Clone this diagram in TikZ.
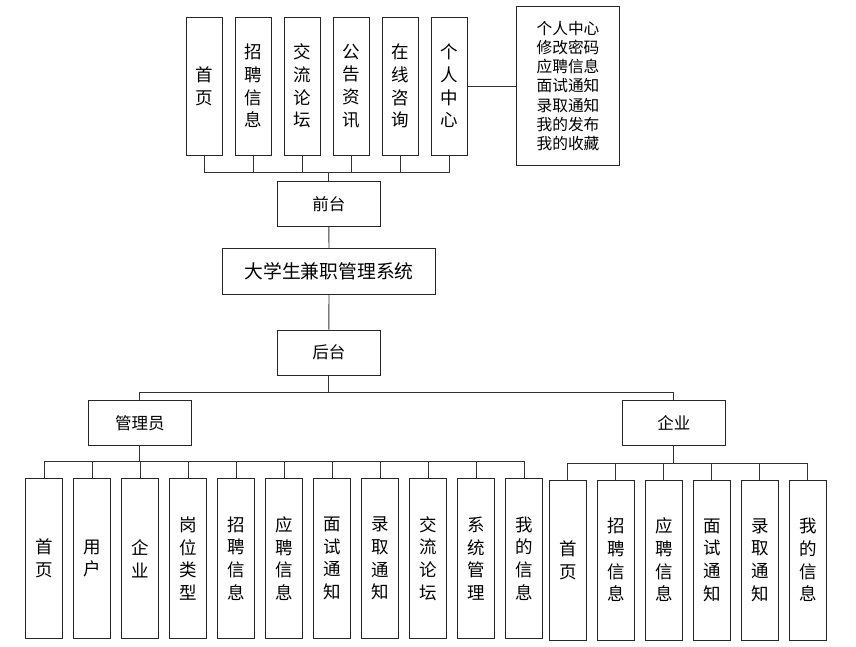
\documentclass[tikz,border=0pt]{standalone}
\usepackage{fontspec}
\newfontfamily\cjk{Noto Sans CJK SC}
\usetikzlibrary{calc}

\begin{document}
\begin{tikzpicture}[x=1pt, y=-1pt, line width=0.9pt,
	box/.style={draw=black!85, inner sep=0pt, align=center, font=\cjk\fontsize{16.5}{20}\selectfont},
	tallbox/.style={box, minimum width=36.5pt, font=\cjk\fontsize{17.5}{22.7}\selectfont},
	midbox/.style={box, minimum width=103pt, minimum height=45.5pt},
	link/.style={draw=black!80}]
			\useasboundingbox (0,0) rectangle (856,646);

			% front end
			\foreach \txt [count=\i from 0] in {首\\页, 招\\聘\\信\\息, 交\\流\\论\\坛, 公\\告\\资\\讯, 在\\线\\咨\\询, 个\\人\\中\\心}
				\node[tallbox, minimum height=138pt] (t\i) at (204.5+49*\i, 86) {\txt};
			\node[box, minimum width=102.6pt, minimum height=159.7pt, font=\cjk\fontsize{15.7}{19.3}\selectfont] (list) at (568,86)
				{个人中心\\修改密码\\应聘信息\\面试通知\\录取通知\\我的发布\\我的收藏};

			\node[midbox] (qt) at (328.8,203.7) {前台};
			\node[box, minimum width=212.6pt, minimum height=45.3pt, font=\cjk\fontsize{18.8}{20}\selectfont] (sys) at (329,271.3) {大学生兼职管理系统};
			\node[midbox] (ht) at (328.8,352.7) {后台};
			\node[midbox] (gly) at (139.8,422.8) {管理员};
			\node[midbox] (qy) at (673.8,423) {企业};

			% back end leaves
			\foreach \txt [count=\i from 0] in {首\\页, 用\\户, 企\\业, 岗\\位\\类\\型, 招\\聘\\信\\息, 应\\聘\\信\\息, 面\\试\\通\\知, 录\\取\\通\\知, 交\\流\\论\\坛, 系\\统\\管\\理, 我\\的\\信\\息}
				\node[tallbox, minimum height=159.6pt] (a\i) at (44+48*\i, 558.5) {\txt};
			\foreach \txt [count=\i from 0] in {首\\页, 招\\聘\\信\\息, 应\\聘\\信\\息, 面\\试\\通\\知, 录\\取\\通\\知, 我\\的\\信\\息}
				\node[tallbox, minimum height=160pt] (c\i) at (567.8+48*\i, 560) {\txt};

			% connectors
			\foreach \i in {0,...,5}
				\draw[link] (t\i.south) |- ([yshift=8.4pt]qt.north) -- (qt.north);
			\draw[link] (t5.east) -- (list.west);
			\draw[link] (qt.south) -- (sys.north);
			\draw[link] (sys.south) -- (ht.north);
			\draw[link] (gly.north) |- ([yshift=-16.4pt]ht.south) -| (qy.north);
			\draw[link] (ht.south) -- ([yshift=-16.4pt]ht.south);
			\foreach \i in {0,...,10}
				\draw[link] (a\i.north) |- ([yshift=-15.3pt]gly.south) -- (gly.south);
			\foreach \i in {0,...,5}
				\draw[link] (c\i.north) |- ([yshift=-17.3pt]qy.south) -- (qy.south);
		\end{tikzpicture}
\end{document}
